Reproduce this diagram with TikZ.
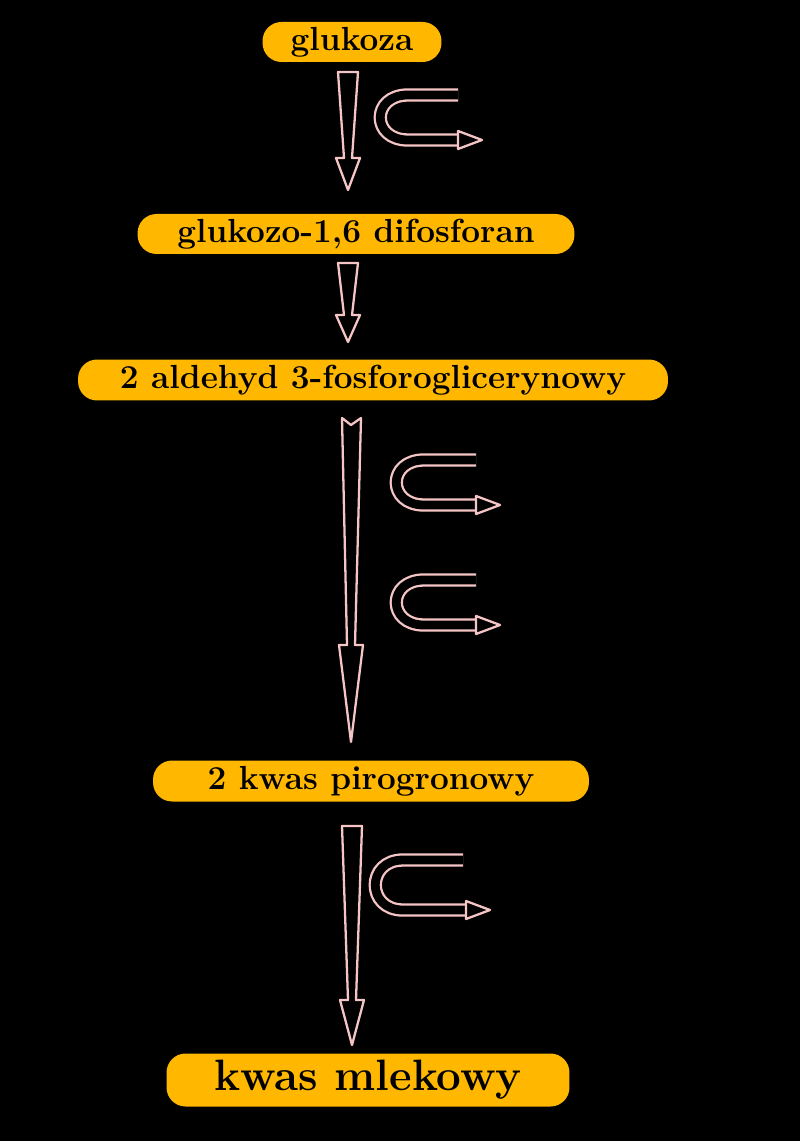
\documentclass[tikz,border=0pt]{standalone}
\begin{document}
\begin{tikzpicture}[x=0.02cm,y=-0.02cm,
  box/.style={fill={rgb,255:red,255;green,183;blue,0},rounded corners=0.38cm,inner sep=0pt,font=\fontsize{19}{22}\selectfont\bfseries},
  ol/.style={draw={rgb,255:red,245;green,196;blue,196},line width=1.3pt,fill=black,line join=round},
  hk/.style={draw={rgb,255:red,245;green,196;blue,196},double=black,double distance=5pt,line width=1.3pt}]
\fill[black] (0,0) rectangle (800,1141);
\node[box,minimum width=3.58cm,minimum height=0.8cm] (g) at (352,42) {glukoza};
\node[box,minimum width=8.74cm,minimum height=0.8cm] (gd) at (356,234) {glukozo-1,6 difosforan};
\node[box,minimum width=11.8cm,minimum height=0.82cm] (al) at (373,380) {2 aldehyd 3-fosforoglicerynowy};
\node[box,minimum width=8.72cm,minimum height=0.82cm] (pk) at (371,781) {2 kwas pirogronowy};
\node[box,minimum width=8.06cm,minimum height=1.06cm,font=\fontsize{25}{28}\selectfont\bfseries] (km) at (368,1080) {kwas mlekowy};
% down arrows
\newcommand\dnarr[4]{\draw[ol] (#1-10,#2) -- (#1+10,#2) -- (#1+4,#3) -- (#1+12,#3) -- (#1,#4) -- (#1-12,#3) -- (#1-4,#3) -- cycle;}
\dnarr{348}{72}{158}{190}
\dnarr{348}{263}{315}{342}
\draw[ol] (342,418) -- (351,425) -- (361,418) -- (355,645) -- (363,645) -- (351,742) -- (339,645) -- (347,645) -- cycle;
\dnarr{352}{826}{1000}{1045}
% hooks
\newcommand\hookarr[6]{%
  \draw[hk] (#4,#2) -- (#1+35,#2) .. controls (#1-2,#2) and (#1-2,#3) .. (#1+35,#3) -- (#5,#3);
  \draw[ol] (#5,#3-9) -- (#6,#3) -- (#5,#3+9) -- cycle;}
\hookarr{373}{95}{140}{458}{458}{482}
\hookarr{389}{460}{505}{476}{476}{500}
\hookarr{389}{580}{625}{476}{476}{500}
\hookarr{368}{860}{910}{463}{466}{490}
\end{tikzpicture}
\end{document}
